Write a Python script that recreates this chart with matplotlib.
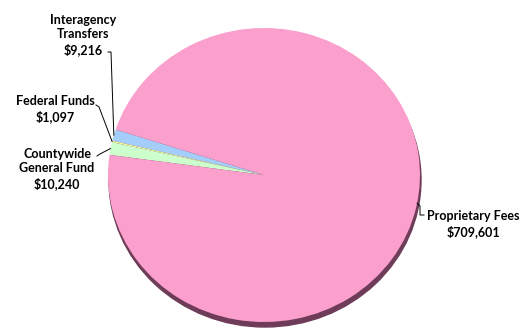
import numpy as np
import matplotlib.pyplot as plt
from matplotlib.patches import Ellipse

plt.rcParams['font.family'] = ['Lato', 'DejaVu Sans']

labels = ["Interagency\nTransfers\n$9,216", "Federal Funds\n$1,097",
          "Countywide\nGeneral Fund\n$10,240", "Proprietary Fees\n$709,601"]
values = [9216, 1097, 10240, 709601]
colors = ["#a3cdfb", "#ffff9c", "#ccffcc", "#fb9fcc"]

W, H = 526, 329
fig = plt.figure(figsize=(W / 100, H / 100), dpi=100)

# pie geometry in pixels (top-left origin)
cx, cy = 264, 175
rx, ry = 156, 147
k = rx / ry  # y stretch so the circle comes out as an ellipse

ax = fig.add_axes([0, 0, 1, 1])
ax.pie(values, colors=colors, startangle=162, counterclock=True,
       center=(cx, (H - cy) * k), radius=rx, frame=True,
       wedgeprops=dict(linewidth=0, zorder=2))
# 3d-ish rim under the pie
ax.add_patch(Ellipse((cx + 1, (H - cy - 5) * k), 2 * rx, 2 * rx,
                     color="#6e3c58", zorder=1))
ax.set_aspect('auto')
ax.set_xlim(0, W)
ax.set_ylim(0, H * k)
ax.axis('off')
wedges = [p for p in ax.patches if hasattr(p, 'theta1')]

# overlay for labels and leader lines, pixel coords
ax2 = fig.add_axes([0, 0, 1, 1])
ax2.set_xlim(0, W)
ax2.set_ylim(H, 0)
ax2.axis('off')

text_pos = [(83, 35), (55, 109), (57, 169), (473, 224)]
leader_pts = [[(108, 52), (111, 52)],
              [(96, 105), (99, 107)],
              [(97, 156), (100, 154)],
              [(424, 215), (420, 215), (420, 206)]]

for i, w in enumerate(wedges):
    if i == 3:
        ang = np.deg2rad(-11)
    else:
        ang = np.deg2rad((w.theta1 + w.theta2) / 2)
    px = cx + rx * np.cos(ang)
    py = cy - ry * np.sin(ang)
    tx, ty = text_pos[i]
    ax2.text(tx, ty, labels[i], ha='center', va='center', fontsize=9,
             fontweight='bold', linespacing=1.25, color='black', zorder=5)
    xs = [p[0] for p in leader_pts[i]] + [px]
    ys = [p[1] for p in leader_pts[i]] + [py]
    ax2.plot(xs, ys, color='black', lw=0.7)

fig.savefig("out.png", dpi=100)
